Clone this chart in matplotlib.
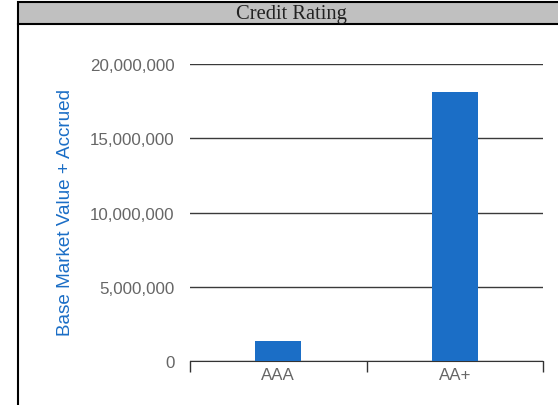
import matplotlib.pyplot as plt
from matplotlib.patches import Rectangle
from matplotlib.lines import Line2D

categories = ["AAA", "AA+"]
values = [1_350_000, 18_100_000]
y_ticks = [0, 5_000_000, 10_000_000, 15_000_000, 20_000_000]

W, H = 558, 406
fig = plt.figure(figsize=(W / 100, H / 100), dpi=100)
fig.patch.set_facecolor("white")

# header band with title
fig.patches.append(Rectangle((18 / W, 1 - 25 / H), 1.0, 22 / H, transform=fig.transFigure,
                             facecolor="#c0c0c0", edgecolor="black", linewidth=1.5))
fig.lines.append(Line2D([18 / W, 18 / W], [0, 1 - 25 / H], transform=fig.transFigure,
                        color="black", linewidth=1.5))
fig.text(291.5 / W, 1 - 18.5 / H, "Credit Rating", family="Liberation Serif", fontsize=14.8,
         ha="center", va="baseline", color="#222222")

ax = fig.add_axes([190 / W, 1 - 362 / H, (543 - 190) / W, (362 - 65) / H])
x = list(range(len(categories)))
ax.bar(x, values, width=0.26, color="#1b6ec6", zorder=3)

ax.set_xlim(-0.5, len(categories) - 0.5)
ax.set_ylim(0, 20_000_000)
ax.set_yticks(y_ticks)
ax.set_yticklabels([f"{v:,}" for v in y_ticks])
ax.set_xticks(x)
ax.set_xticklabels(categories)
ax.set_xticks([i - 0.5 for i in range(len(categories) + 1)], minor=True)

ax.grid(axis="y", color="#3a3a3a", linewidth=1, zorder=0)
for s in ["top", "right", "left"]:
    ax.spines[s].set_visible(False)
ax.spines["bottom"].set_color("#333333")

ax.tick_params(axis="y", length=0, pad=11, labelsize=12.2, labelcolor="#666666",
               labelfontfamily="Liberation Sans")
ax.tick_params(axis="x", which="major", length=0, pad=4, labelsize=12.2, labelcolor="#666666",
               labelfontfamily="Liberation Sans")
ax.tick_params(axis="x", which="minor", length=8, color="#333333", width=1)

fig.text(66 / W, 1 - 213 / H, "Base Market Value + Accrued", rotation=90, ha="center",
         va="center", fontsize=13.6, color="#1b6ec6", family="Liberation Sans")

fig.savefig("out.png", dpi=100)
